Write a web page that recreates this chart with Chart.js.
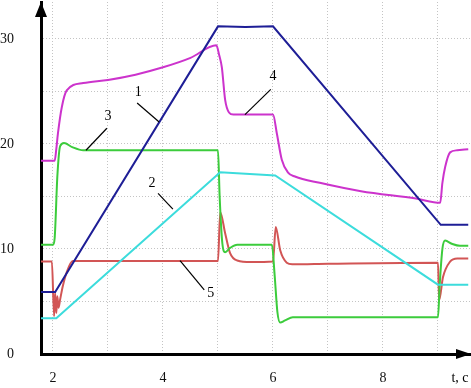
<!DOCTYPE html>
<html>
<head>
<meta charset="utf-8">
<script src="https://cdn.jsdelivr.net/npm/chart.js@4.4.0/dist/chart.umd.min.js"></script>
<style>
  html, body { margin: 0; padding: 0; background: #fff; }
  #wrap { width: 471px; height: 388px; }
</style>
</head>
<body>
<div id="wrap"><canvas id="chart"></canvas></div>
<script>
// === Curves (time, value) ===
const t1 = [1.78, 2.04, 5.0, 5.5, 6.0, 9.05, 9.55];
const v1 = [5.9, 5.9, 31.2, 31.15, 31.2, 12.3, 12.3];

const t2 = [1.78, 2.06, 5.04, 6.04, 9.0, 9.55];
const v2 = [3.4, 3.4, 17.3, 17.0, 6.6, 6.6];

const t3 = [1.78, 2.0, 2.03, 2.08, 2.13, 2.2, 2.35, 2.55, 5.0, 5.03, 5.08, 5.13, 5.22, 5.35, 5.98, 6.03, 6.08, 6.13, 6.22, 6.36, 9.0, 9.03, 9.08, 9.13, 9.25, 9.4, 9.55];
const v3 = [10.4, 10.4, 11, 17, 19.8, 20.1, 19.7, 19.4, 19.4, 15, 10.5, 9.7, 10.1, 10.4, 10.4, 7.5, 4, 3.0, 3.2, 3.5, 3.5, 6.5, 10, 10.8, 10.5, 10.3, 10.3];

const t4 = [1.78, 2.03, 2.06, 2.09, 2.16, 2.25, 2.55, 3.0, 3.5, 4.0, 4.5, 4.97, 5.02, 5.07, 5.13, 5.2, 5.28, 6.0, 6.07, 6.16, 6.27, 6.4, 6.85, 7.6, 8.6, 9.04, 9.08, 9.13, 9.22, 9.35, 9.55];
const v4 = [18.4, 18.4, 19.5, 21, 23.5, 25.1, 25.8, 26.1, 26.6, 27.3, 28.2, 29.4, 28.5, 27.3, 24.2, 23.0, 22.8, 22.8, 21.0, 18.5, 17.3, 16.9, 16.3, 15.5, 14.8, 14.4, 16.3, 17.8, 19.2, 19.4, 19.5];

const t5 = [1.78, 1.98, 2.02, 2.04, 2.06, 2.08, 2.1, 2.13, 2.18, 2.25, 2.36, 5.0, 5.04, 5.13, 5.22, 5.35, 5.6, 6.0, 6.05, 6.13, 6.25, 6.35, 7.0, 9.0, 9.02, 9.09, 9.22, 9.35, 9.55];
const v5 = [8.8, 8.8, 3.6, 5.8, 3.9, 5.5, 4.4, 5.2, 6.5, 7.8, 8.85, 8.85, 13.5, 11.5, 9.6, 8.9, 8.75, 8.8, 12.1, 9.9, 8.7, 8.55, 8.6, 8.7, 5.1, 7.3, 8.8, 9.1, 9.1];

const seriesT = [t1, t2, t3, t4, t5];
const seriesV = [v1, v2, v3, v4, v5];
const seriesNames = ['1', '2', '3', '4', '5'];
const seriesColors = ['#1e1e96', '#3cdcdc', '#3ccc3c', '#cc33cc', '#d25555'];
const seriesSmooth = [false, false, true, true, true];

// === Axes ===
const xTicks = [2, 3, 4, 5, 6, 7, 8, 9];
const xLabels = [2, 4, 6, 8];
const yTicks = [0, 5, 10, 15, 20, 25, 30];
const yLabels = [0, 10, 20, 30];
const xTitle = 't, c';

// === Curve labels: text at (t, v), leader line from (t, v) to (t, v) ===
const notes = [
  ['1', 3.55, 24.9, 3.53, 23.9, 3.93, 22.1],
  ['2', 3.80, 16.3, 3.91, 15.3, 4.18, 13.8],
  ['3', 3.00, 22.6, 2.98, 21.5, 2.60, 19.4],
  ['4', 6.00, 26.4, 5.96, 25.2, 5.49, 22.8],
  ['5', 4.87, 5.8, 4.75, 6.1, 4.31, 8.9]
];

const serif = "'Liberation Serif', 'DejaVu Serif', serif";

const decorPlugin = {
  id: 'decor',
  afterDraw(chart) {
    const { ctx, chartArea: a, scales: { x, y } } = chart;
    ctx.save();
    // arrow heads
    ctx.fillStyle = '#000';
    ctx.beginPath();
    ctx.moveTo(a.left, a.top);
    ctx.lineTo(a.left - 6, a.top + 15);
    ctx.lineTo(a.left + 6, a.top + 15);
    ctx.closePath();
    ctx.fill();
    ctx.beginPath();
    ctx.moveTo(a.right, a.bottom);
    ctx.lineTo(a.right - 15, a.bottom - 5);
    ctx.lineTo(a.right - 15, a.bottom + 5);
    ctx.closePath();
    ctx.fill();

    // curve labels
    ctx.font = '14px ' + serif;
    ctx.textAlign = 'center';
    ctx.textBaseline = 'middle';
    ctx.strokeStyle = '#000';
    ctx.lineWidth = 1.2;
    notes.forEach(([txt, tx, ty, x0, y0, x1, y1]) => {
      ctx.fillText(txt, x.getPixelForValue(tx), y.getPixelForValue(ty));
      ctx.beginPath();
      ctx.moveTo(x.getPixelForValue(x0), y.getPixelForValue(y0));
      ctx.lineTo(x.getPixelForValue(x1), y.getPixelForValue(y1));
      ctx.stroke();
    });

    // axis title
    ctx.fillText(xTitle, a.right - 11, a.bottom + 24);
    ctx.restore();
  }
};

new Chart(document.getElementById('chart'), {
  type: 'line',
  data: {
    datasets: seriesT.map((ts, i) => ({
      label: seriesNames[i],
      data: ts.map((t, k) => ({ x: t, y: seriesV[i][k] })),
      borderColor: seriesColors[i],
      borderWidth: 2,
      pointRadius: 0,
      tension: 0,
      cubicInterpolationMode: seriesSmooth[i] ? 'monotone' : 'default',
      fill: false
    }))
  },
  options: {
    responsive: true,
    maintainAspectRatio: false,
    animation: false,
    layout: { padding: { top: 2, right: 0, left: 0, bottom: 0 } },
    plugins: { legend: { display: false }, tooltip: { enabled: false } },
    scales: {
      x: {
        type: 'linear',
        min: 1.782,
        max: 9.6,
        afterBuildTicks: s => { s.ticks = xTicks.map(v => ({ value: v })); },
        afterFit: s => { s.height = 34; s.paddingLeft = 0; s.paddingRight = 0; },
        ticks: {
          autoSkip: false,
          maxRotation: 0,
          padding: 16,
          color: '#111',
          font: { family: serif, size: 14 },
          callback: v => xLabels.includes(v) ? String(v) : ''
        },
        grid: { color: '#c4c4c4', lineWidth: 1, drawTicks: false },
        border: { display: true, color: '#000', width: 3, dash: [1, 2] }
      },
      y: {
        type: 'linear',
        min: 0,
        max: 33.52,
        afterBuildTicks: s => { s.ticks = yTicks.map(v => ({ value: v })); },
        afterFit: s => { s.width = 41; s.paddingTop = 0; s.paddingBottom = 0; },
        ticks: {
          autoSkip: false,
          padding: 27,
          color: '#111',
          font: { family: serif, size: 14 },
          callback: v => yLabels.includes(v) ? String(v) : ''
        },
        grid: { color: '#c4c4c4', lineWidth: 1, drawTicks: false },
        border: { display: true, color: '#000', width: 3, dash: [1, 2] }
      }
    }
  },
  plugins: [decorPlugin]
});
</script>
</body>
</html>
